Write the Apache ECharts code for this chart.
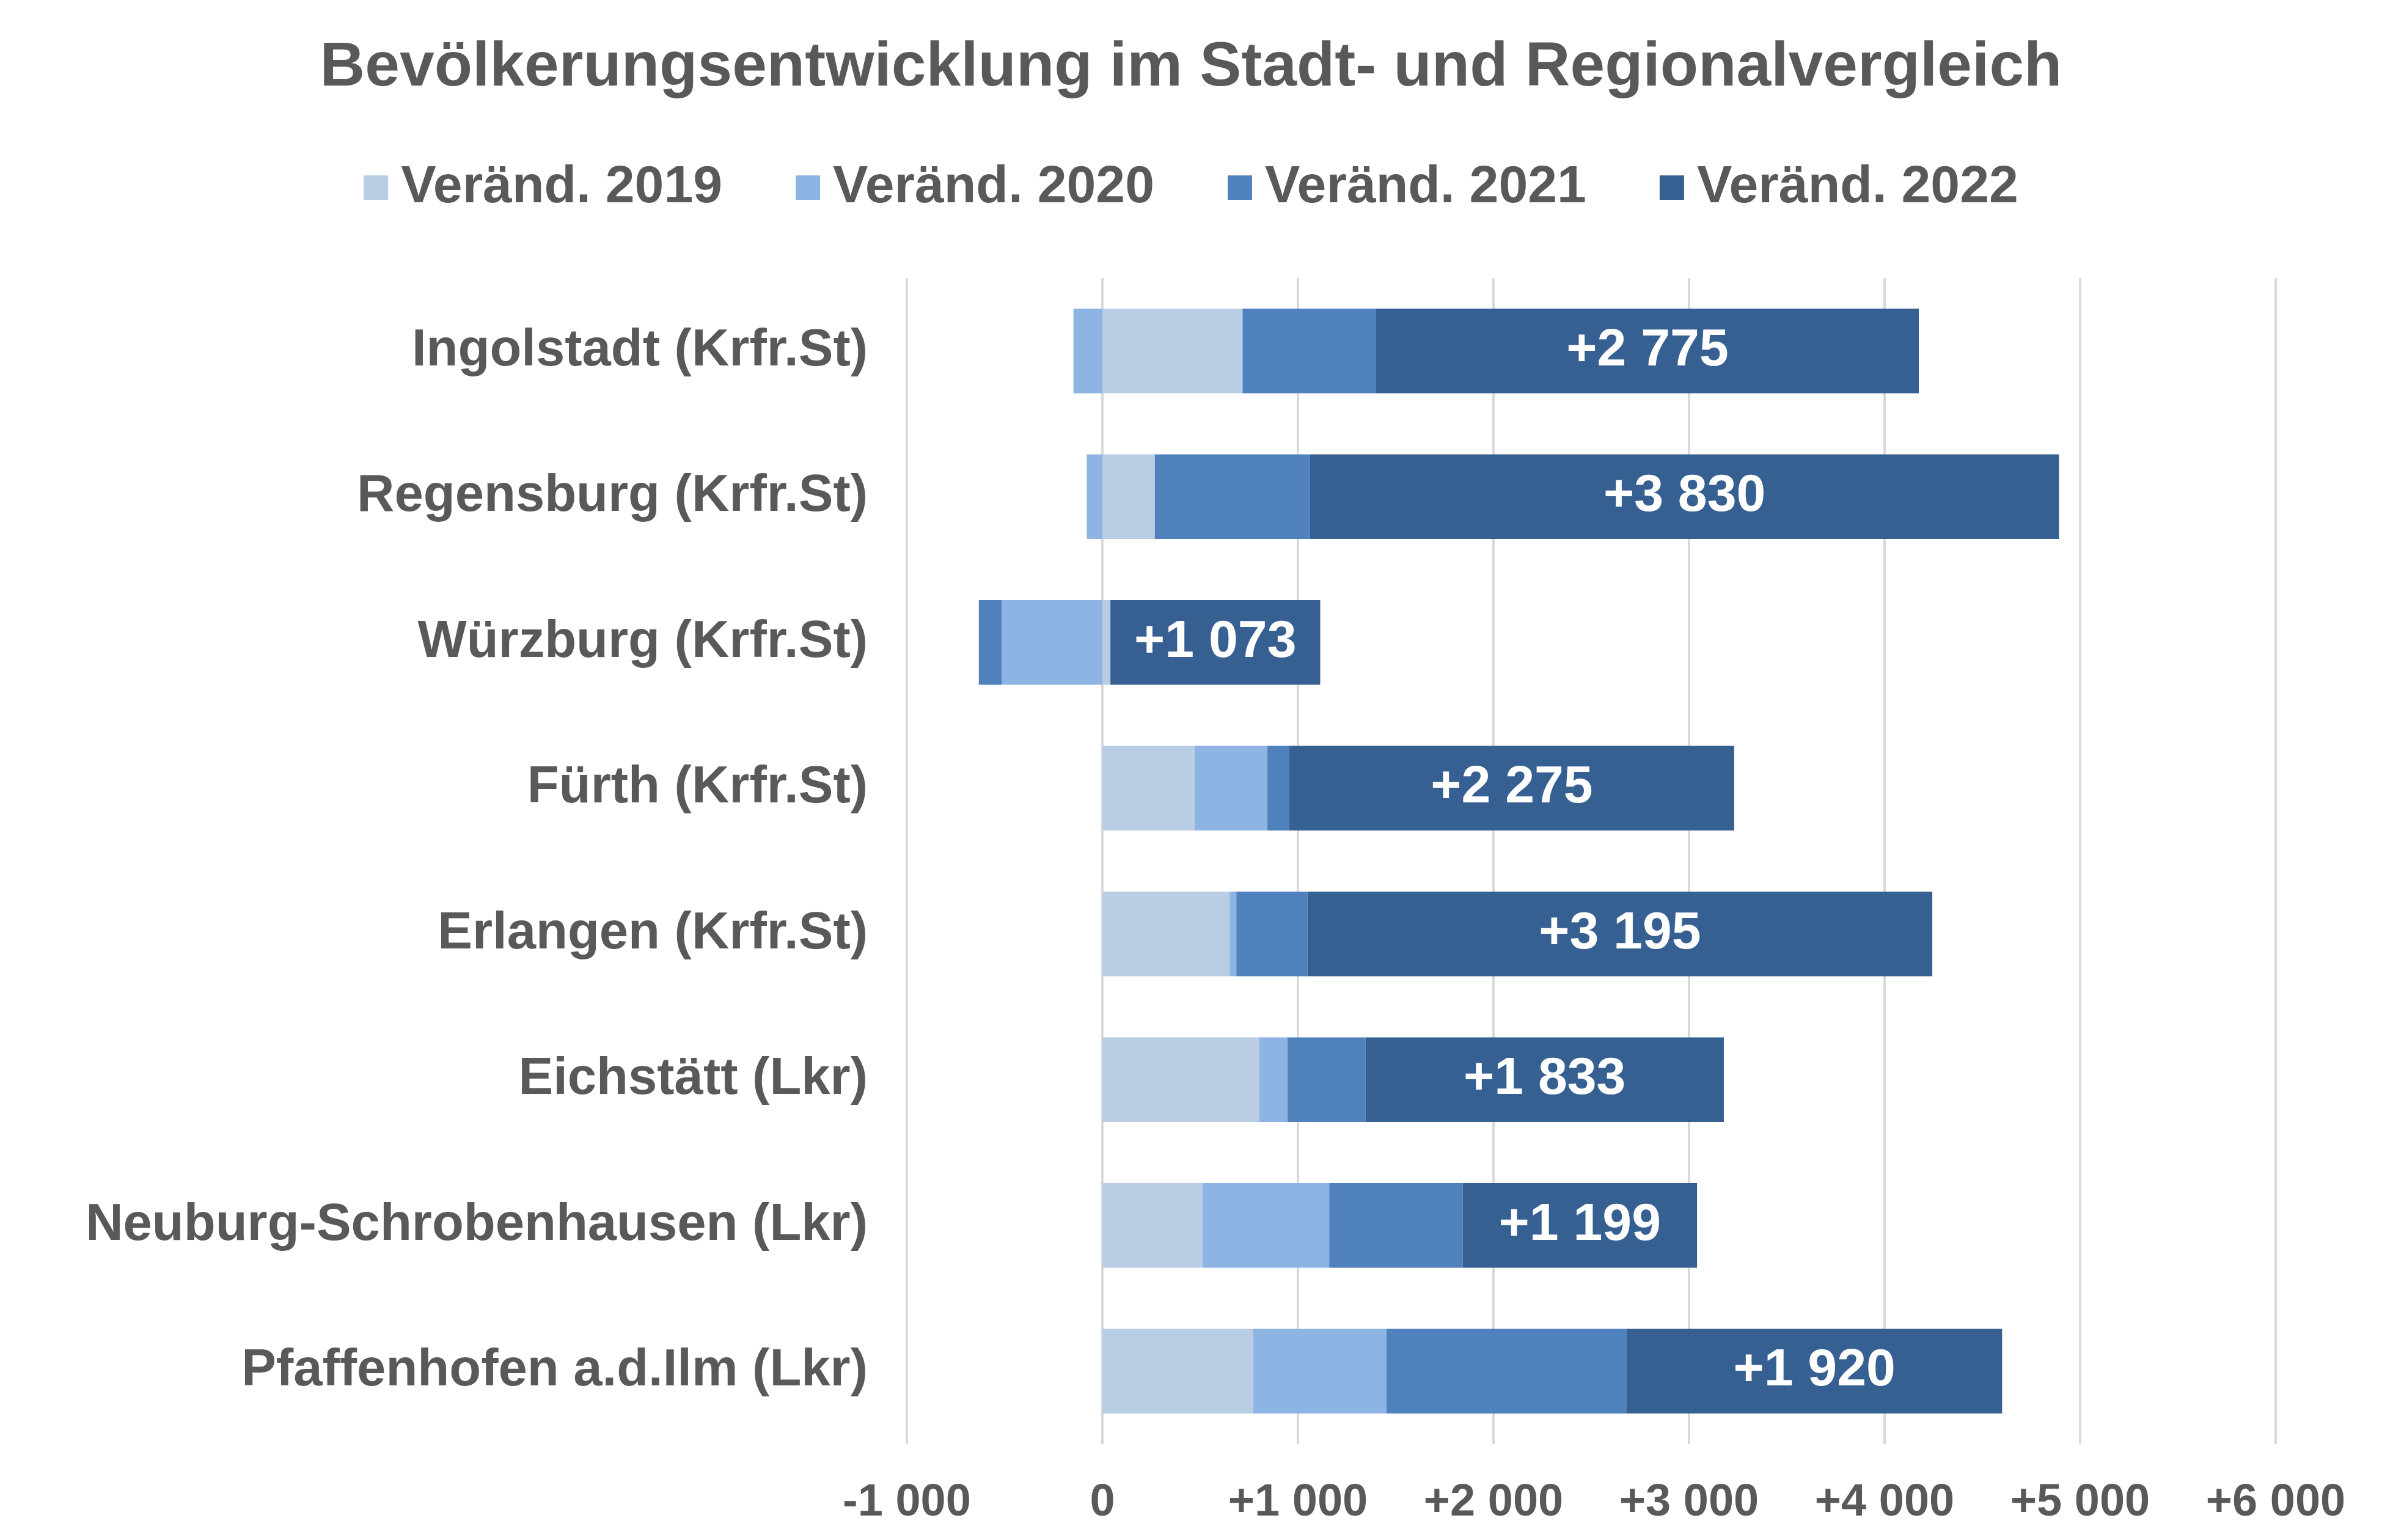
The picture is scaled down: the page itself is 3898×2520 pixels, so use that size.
<!DOCTYPE html>
<html>
<head>
<meta charset="utf-8">
<script src="https://cdn.jsdelivr.net/npm/echarts@6/dist/echarts.min.js"></script>
<style>
html, body { margin: 0; padding: 0; background: #fff; }
#main { width: 3898px; height: 2520px; }
</style>
</head>
<body>
<div id="main"></div>
<script>
var regions = ['Ingolstadt (Krfr.St)', 'Regensburg (Krfr.St)', 'Würzburg (Krfr.St)', 'Fürth (Krfr.St)',
    'Erlangen (Krfr.St)', 'Eichstätt (Lkr)', 'Neuburg-Schrobenhausen (Lkr)', 'Pfaffenhofen a.d.Ilm (Lkr)'];
var seriesNames = ['Veränd. 2019', 'Veränd. 2020', 'Veränd. 2021', 'Veränd. 2022'];
var change2019 = [717, 268, 41, 471, 651, 801, 512, 772];
var change2020 = [-148, -80, -515, 373, 34, 145, 648, 681];
var change2021 = [683, 794, -117, 112, 364, 399, 682, 1228];
var change2022 = [2775, 3830, 1073, 2275, 3195, 1833, 1199, 1920];
var colors = ['#B9CDE5', '#8EB4E3', '#4F81BD', '#376092'];

// Tausendertrennzeichen als Leerzeichen, positive Werte mit "+"
function fmt(v) {
    var s = String(Math.abs(v)).replace(/\B(?=(\d{3})+(?!\d))/g, ' ');
    if (v > 0) return '+' + s;
    if (v < 0) return '-' + s;
    return '0';
}

var myChart = echarts.init(document.getElementById('main'));
var textColor = '#595959';
var font = 'Liberation Sans, Arial, sans-serif';

var allData = [change2019, change2020, change2021, change2022];
var series = allData.map(function (d, i) {
    var s = {
        name: seriesNames[i],
        type: 'bar',
        stack: 'total',
        data: d,
        barCategoryGap: '42%',
        itemStyle: { color: colors[i] }
    };
    if (i === 3) {
        s.label = {
            show: true,
            position: 'inside',
            color: '#fff',
            fontFamily: font,
            fontWeight: 'bold',
            fontSize: 86,
            formatter: function (p) { return fmt(p.value); }
        };
    }
    return s;
});

option = {
    backgroundColor: '#fff',
    animation: false,
    title: {
        text: 'Bevölkerungsentwicklung im Stadt- und Regionalvergleich',
        left: 'center',
        top: 56,
        textStyle: { color: textColor, fontFamily: font, fontWeight: 'bold', fontSize: 102 }
    },
    legend: {
        data: seriesNames,
        top: 259,
        left: 'center',
        itemWidth: 40,
        itemHeight: 40,
        itemGap: 120,
        icon: 'rect',
        textStyle: { color: textColor, fontFamily: font, fontWeight: 'bold', fontSize: 86, padding: [0, 0, 0, 16] }
    },
    grid: { left: 1484, right: 174, top: 455, bottom: 157 },
    xAxis: {
        type: 'value',
        min: -1000,
        max: 6000,
        interval: 1000,
        axisLine: { show: false },
        axisTick: { show: false },
        splitLine: { lineStyle: { color: '#D9D9D9', width: 4 } },
        axisLabel: {
            color: textColor, fontFamily: font, fontWeight: 'bold', fontSize: 74, margin: 60,
            formatter: function (v) { return fmt(v); }
        }
    },
    yAxis: {
        type: 'category',
        inverse: true,
        data: regions,
        axisLine: { show: false },
        axisTick: { show: false },
        axisLabel: { color: textColor, fontFamily: font, fontWeight: 'bold', fontSize: 85, margin: 64 }
    },
    series: series
};

//使用刚指定的配置项和数据显示图表。
myChart.setOption(option);
</script>
</body>
</html>
